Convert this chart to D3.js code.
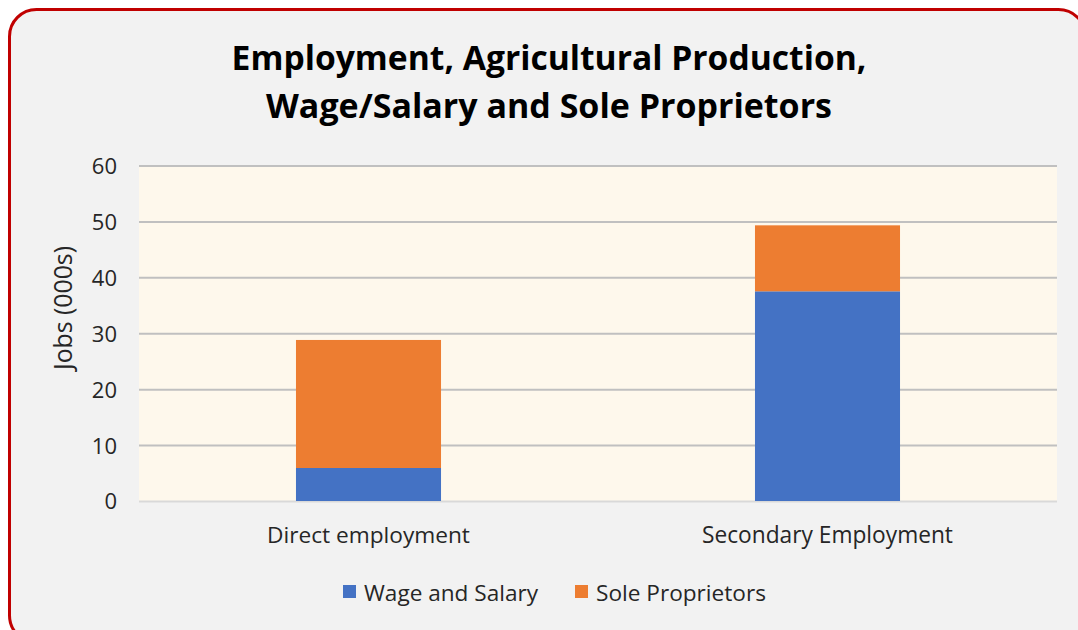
<!DOCTYPE html>
<html>
<head>
<meta charset="utf-8">
<script src="https://cdn.jsdelivr.net/npm/d3@7"></script>
<style>
  html, body { margin: 0; padding: 0; background: #ffffff; }
  svg { display: block; }
  text { font-family: "Open Sans", "Noto Sans", sans-serif; fill: #262626; }
</style>
</head>
<body>
<script>
// ---- data ----
const categories = ["Direct employment", "Secondary Employment"];
const seriesNames = ["Wage and Salary", "Sole Proprietors"];
const wageSalary = [5.9, 37.5];
const soleProprietors = [22.9, 11.8];
const yTicks = [0, 10, 20, 30, 40, 50, 60];
const titleLines = ["Employment, Agricultural Production,", "Wage/Salary and Sole Proprietors"];
const yAxisTitle = "Jobs (000s)";

const W = 1078, H = 630;
const colors = ["#4472C4", "#ED7D31"];

const svg = d3.select("body").append("svg").attr("width", W).attr("height", H);

// chart frame
svg.append("rect")
  .attr("x", 9.5).attr("y", 9.5)
  .attr("width", 1076).attr("height", 633)
  .attr("rx", 27).attr("ry", 27)
  .attr("fill", "#F2F2F2")
  .attr("stroke", "#C00000").attr("stroke-width", 3);

function fit(sel, target) {
  const node = sel.node();
  const fs = parseFloat(sel.attr("font-size"));
  const len = node.getComputedTextLength();
  sel.attr("font-size", (fs * target / len).toFixed(2));
  return sel;
}

// title
const titleWidths = [635, 566];
const titleBase = [69.5, 117.5];
titleLines.forEach((t, i) => {
  const s = svg.append("text")
    .attr("x", 549).attr("y", titleBase[i])
    .attr("text-anchor", "middle")
    .attr("font-weight", "bold")
    .attr("font-size", 32)
    .style("fill", "#000")
    .text(t);
  fit(s, titleWidths[i]);
});

const plot = { left: 139, right: 1057, top: 165.5, bottom: 501 };

const x = d3.scaleBand()
  .domain(categories)
  .range([plot.left, plot.right])
  .paddingInner(0.684)
  .paddingOuter(0.342);

const y = d3.scaleLinear()
  .domain([0, 60])
  .range([plot.bottom, plot.top]);

// plot background
svg.append("rect")
  .attr("x", plot.left).attr("y", plot.top)
  .attr("width", plot.right - plot.left).attr("height", plot.bottom - plot.top)
  .attr("fill", "#FEF8EC");

// gridlines
const yAxis = d3.axisLeft(y).tickValues(yTicks).tickSize(-(plot.right - plot.left)).tickPadding(22);
const gy = svg.append("g").attr("transform", `translate(${plot.left},0)`).call(yAxis);
gy.select(".domain").remove();
gy.selectAll(".tick line")
  .attr("stroke", d => d === 0 ? "#D9D9D9" : "#C0C0C0")
  .attr("stroke-width", 2);
gy.selectAll(".tick text")
  .attr("font-size", 22)
  .attr("dy", "0.36em")
  .style("font-family", '"Open Sans", sans-serif')
  .style("fill", "#262626");

// stacked bars
const tableRows = categories.map((c, i) => ({ cat: c, "Wage and Salary": wageSalary[i], "Sole Proprietors": soleProprietors[i] }));
const stack = d3.stack().keys(seriesNames)(tableRows);

svg.append("g").selectAll("g")
  .data(stack)
  .join("g")
  .attr("fill", (d, i) => colors[i])
  .selectAll("rect")
  .data(d => d)
  .join("rect")
  .attr("x", d => x(d.data.cat))
  .attr("width", x.bandwidth())
  .attr("y", d => y(d[1]))
  .attr("height", d => y(d[0]) - y(d[1]));

// x axis labels
const catWidths = [203, 251];
categories.forEach((c, i) => {
  const s = svg.append("text")
    .attr("x", x(c) + x.bandwidth() / 2)
    .attr("y", 543)
    .attr("text-anchor", "middle")
    .attr("font-size", 20)
    .text(c);
  fit(s, catWidths[i]);
});

// y axis title
const yt = svg.append("text")
  .attr("transform", "translate(72,308) rotate(-90)")
  .attr("text-anchor", "middle")
  .attr("font-size", 20)
  .text(yAxisTitle);
fit(yt, 124);

// legend
const legendX = [343, 575];
const legendTextW = [174, 170];
seriesNames.forEach((n, i) => {
  svg.append("rect")
    .attr("x", legendX[i]).attr("y", 585)
    .attr("width", 13).attr("height", 13)
    .attr("fill", colors[i]);
  const s = svg.append("text")
    .attr("x", legendX[i] + 21).attr("y", 601)
    .attr("font-size", 20)
    .text(n);
  fit(s, legendTextW[i]);
});
</script>
</body>
</html>
